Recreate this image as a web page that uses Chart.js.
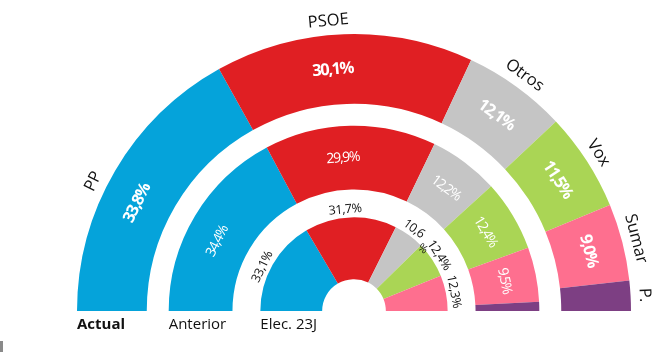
<!DOCTYPE html>
<html>
<head>
<meta charset="utf-8">
<script src="https://cdn.jsdelivr.net/npm/chart.js@4"></script>
<style>
  html, body { margin: 0; padding: 0; background: #fff; }
  #wrap { position: relative; width: 672px; height: 352px; }
  #marca { position: absolute; left: 0; top: 341px; width: 3px; height: 11px; background: #8a8a8a; }
</style>
</head>
<body>
<div id="wrap">
  <canvas id="semicirculo" width="672" height="352"></canvas>
  <div id="marca"></div>
</div>
<script>
// datos
const partidos = ['PP', 'PSOE', 'Otros', 'Vox', 'Sumar', 'P.'];
const colores = ['#05a3da', '#e01f23', '#c5c5c5', '#aad555', '#fe6f8f', '#7d3f83'];
const anillos = ['Actual', 'Anterior', 'Elec. 23J'];

const actual = [33.8, 30.1, 12.1, 11.5, 9.0, 3.5];
const anterior = [34.4, 29.9, 12.2, 12.4, 9.5, 1.6];
const elec23J = [33.1, 31.7, 10.6, 12.4, 12.3, 0];

const textoActual = ['33,8%', '30,1%', '12,1%', '11,5%', '9,0%', ''];
const textoAnterior = ['34,4%', '29,9%', '12,2%', '12,4%', '9,5%', ''];
const textoElec = ['33,1%', '31,7%', '10,6', '12,4%', '12,3%', ''];

// pequeño desplazamiento (grados) de las etiquetas de PP y PSOE, como en el original
const ajusteAngulo = [-4, -3, 0, 0, 0, 0];

const hueco = (w) => ({ data: [1], backgroundColor: ['rgba(0,0,0,0)'], borderWidth: 0, weight: w });

const ctx = document.getElementById('semicirculo').getContext('2d');

function textoGirado(c, txt, x, y, ang, font, color, spacing) {
    c.save();
    c.translate(x, y);
    c.rotate(ang);
    c.font = font;
    c.fillStyle = color;
    c.letterSpacing = spacing || '0px';
    c.textAlign = 'center';
    c.textBaseline = 'middle';
    c.fillText(txt, 0, 0);
    c.restore();
}

const etiquetas = {
    id: 'etiquetas',
    afterDatasetsDraw(chart) {
        const c = chart.ctx;
        const rings = [0, 2, 4];
        const textos = [textoActual, textoAnterior, textoElec];
        rings.forEach((di, k) => {
            const arcs = chart.getDatasetMeta(di).data;
            arcs.forEach((a, i) => {
                const p = a.getProps(['x', 'y', 'startAngle', 'endAngle', 'innerRadius', 'outerRadius']);
                const mid = (p.startAngle + p.endAngle) / 2 + ajusteAngulo[i] * Math.PI / 180;
                const rot = mid + Math.PI / 2;
                const rm = (p.innerRadius + p.outerRadius) / 2;
                const t = textos[k][i];
                if (k === 0) {
                    // nombre del partido fuera del anillo
                    const rl = p.outerRadius + 14;
                    textoGirado(c, partidos[i], p.x + rl * Math.cos(mid), p.y + rl * Math.sin(mid), rot,
                        '16.5px "Open Sans"', '#111', '0px');
                    if (t) textoGirado(c, t, p.x + rm * Math.cos(mid), p.y + rm * Math.sin(mid), rot,
                        'bold 16.5px "Open Sans"', '#fff', '-1.4px');
                } else if (k === 1) {
                    if (t) textoGirado(c, t, p.x + rm * Math.cos(mid), p.y + rm * Math.sin(mid), rot,
                        '14px "Open Sans"', '#fff', '-1.3px');
                } else {
                    if (!t) return;
                    const rl = p.outerRadius + 8;
                    const x = p.x + rl * Math.cos(mid), y = p.y + rl * Math.sin(mid);
                    textoGirado(c, t, x, y, rot, '12.5px "Open Sans"', '#111', '-0.4px');
                    if (t.indexOf('%') < 0) {
                        // el "%" que queda descolgado en el original
                        c.save();
                        c.translate(x, y);
                        c.rotate(rot);
                        c.font = '11px "Open Sans"';
                        c.fillStyle = '#111';
                        c.textAlign = 'center';
                        c.textBaseline = 'middle';
                        c.fillText('%', 19, 11);
                        c.restore();
                    }
                }
            });
            // nombre del anillo debajo
            const a0 = arcs[0];
            c.save();
            c.font = (k === 0 ? 'bold ' : '') + '15px "Open Sans"';
            c.fillStyle = '#111';
            c.textAlign = 'left';
            c.textBaseline = 'middle';
            c.fillText(anillos[k], a0.x - a0.outerRadius, a0.y + 14);
            c.restore();
        });
    }
};

new Chart(ctx, {
    type: 'doughnut',
    data: {
        labels: partidos,
        datasets: [
            { label: anillos[0], data: actual, backgroundColor: colores, borderWidth: 0, weight: 70 },
            hueco(22),
            { label: anillos[1], data: anterior, backgroundColor: colores, borderWidth: 0, weight: 64 },
            hueco(28),
            { label: anillos[2], data: elec23J, backgroundColor: colores, borderWidth: 0, weight: 62 }
        ]
    },
    options: {
        responsive: false,
        animation: false,
        rotation: -90,
        circumference: 180,
        cutout: '11.5%',
        layout: { padding: { left: 76, right: 40, top: 34, bottom: 41 } },
        events: [],
        plugins: {
            legend: { display: false },
            tooltip: { enabled: false }
        }
    },
    plugins: [etiquetas]
});
</script>
</body>
</html>
